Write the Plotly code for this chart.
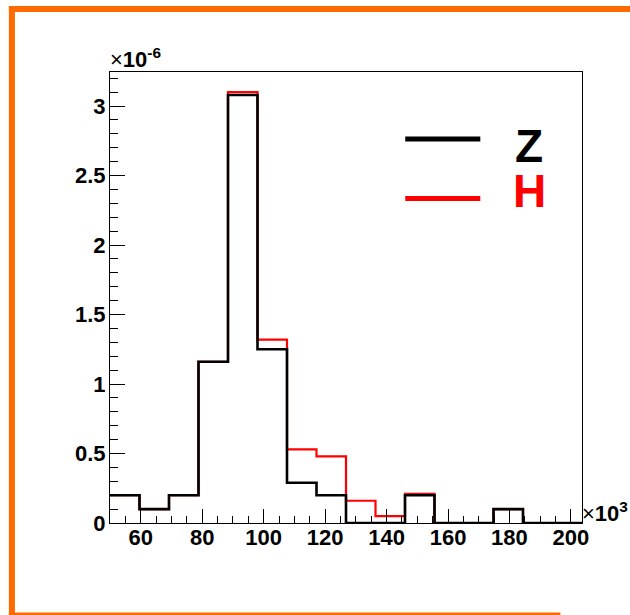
import plotly.graph_objects as go

# ---- data (x in units of 10^3, y in units of 10^-6) ----
bin_low = 50.0
bin_width = 9.6
n_bins = 16
z_values = [0.20, 0.10, 0.20, 1.16, 3.08, 1.25, 0.29, 0.20, 0.0, 0.0, 0.20, 0.0, 0.0, 0.10, 0.0, 0.0]
h_values = [0.20, 0.10, 0.20, 1.16, 3.10, 1.32, 0.53, 0.48, 0.16, 0.05, 0.21, 0.0, 0.0, 0.10, 0.0, 0.0]
series_names = ["Z", "H"]
series_colors = ["#000000", "#ff0000"]
x_range = [50.0, 203.6]
y_range = [0.0, 3.245]
x_tickvals = [60, 80, 100, 120, 140, 160, 180, 200]
x_ticktext = ["60", "80", "100", "120", "140", "160", "180", "200"]
y_tickvals = [0, 0.5, 1, 1.5, 2, 2.5, 3]
y_ticktext = ["0", "0.5", "1", "1.5", "2", "2.5", "3"]

edges = [bin_low + i * bin_width for i in range(n_bins + 1)]

W, H = 630, 615
L, R, T, B = 110, 48.4, 72, 92
pw, ph = W - L - R, H - T - B


def px(x):
    return (x - L) / pw


def py(y):
    return (H - B - y) / ph


def step(vals):
    return edges, list(vals) + [vals[-1]]


fig = go.Figure()
for name, vals, col, lw in [("H", h_values, series_colors[1], 2.2), ("Z", z_values, series_colors[0], 2.6)]:
    xs, ys = step(vals)
    fig.add_trace(go.Scatter(x=xs, y=ys, mode="lines", line=dict(color=col, width=lw, shape="hv"),
                             name=name, showlegend=False, hoverinfo="skip"))

tickfont = dict(family="Liberation Sans", size=22, color="black", weight="bold")
fig.update_layout(
    width=W, height=H,
    margin=dict(l=L, r=R, t=T, b=B, pad=0, autoexpand=False),
    paper_bgcolor="white", plot_bgcolor="white",
    xaxis=dict(range=x_range, showgrid=False, zeroline=False, showline=True, linecolor="black",
               linewidth=1.2, mirror=True, ticks="inside", ticklen=14, tickwidth=1, tickcolor="black",
               tickvals=x_tickvals, ticktext=x_ticktext, tickfont=tickfont, automargin=False,
               ticklabelstandoff=-6,
               minor=dict(ticks="inside", ticklen=7, dtick=5, tick0=0, tickcolor="black", tickwidth=1)),
    yaxis=dict(range=y_range, showgrid=False, zeroline=False, showline=True, linecolor="black",
               linewidth=1.2, mirror=True, ticks="inside", ticklen=15, tickwidth=1, tickcolor="black",
               tickvals=y_tickvals, ticktext=y_ticktext, tickfont=tickfont, automargin=False,
               ticklabelstandoff=-1,
               minor=dict(ticks="inside", ticklen=7.5, dtick=0.1, tick0=0, tickcolor="black", tickwidth=1)),
)

orange = "#ff6a00"
shapes = [
    dict(type="rect", xref="paper", yref="paper", x0=px(9), x1=px(630), y0=py(6), y1=py(12),
         fillcolor=orange, line=dict(width=0), layer="above"),
    dict(type="rect", xref="paper", yref="paper", x0=px(9), x1=px(15), y0=py(6), y1=py(615),
         fillcolor=orange, line=dict(width=0), layer="above"),
    dict(type="rect", xref="paper", yref="paper", x0=px(9), x1=px(560), y0=py(612.5), y1=py(615),
         fillcolor=orange, line=dict(width=0), layer="above"),
    # legend lines
    dict(type="line", xref="paper", yref="paper", x0=px(405), x1=px(480), y0=py(139), y1=py(139),
         line=dict(color=series_colors[0], width=5)),
    dict(type="line", xref="paper", yref="paper", x0=px(405), x1=px(480), y0=py(198.5), y1=py(198.5),
         line=dict(color=series_colors[1], width=5)),
]
fig.update_layout(shapes=shapes)

ann = []
for name, col, yc in [(series_names[0], series_colors[0], 146), (series_names[1], series_colors[1], 191)]:
    ann.append(dict(xref="paper", yref="paper", x=px(529), y=py(yc), text=name, showarrow=False,
                    xanchor="center", yanchor="middle",
                    font=dict(family="Liberation Sans", size=46, color=col, weight="bold")))
ann.append(dict(xref="paper", yref="paper", x=px(108), y=py(74), text="×<b>10</b><sup><b>-6</b></sup>",
                showarrow=False, xanchor="left", yanchor="bottom",
                font=dict(family="Liberation Sans", size=22, color="black")))
ann.append(dict(xref="paper", yref="paper", x=px(580), y=py(528), text="×<b>10</b><sup><b>3</b></sup>",
                showarrow=False, xanchor="left", yanchor="bottom",
                font=dict(family="Liberation Sans", size=22, color="black")))
fig.update_layout(annotations=ann)

fig.write_html("out.html", config={"displayModeBar": False},
               post_script="document.body.style.margin='0';document.body.style.overflow='hidden';")
